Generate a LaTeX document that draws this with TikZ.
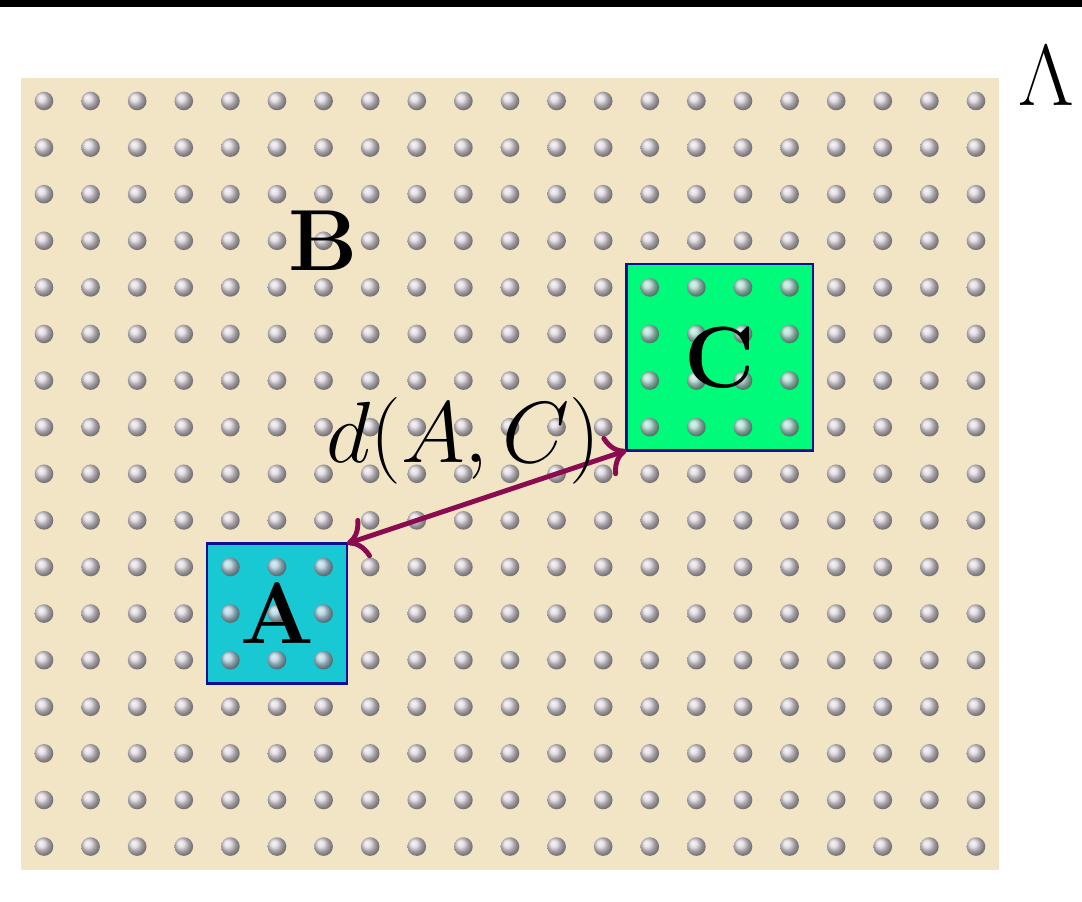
\RequirePackage{fix-cm}
\documentclass[tikz,border=0pt]{standalone}
\usetikzlibrary{arrows.meta}

\definecolor{latticebg}{RGB}{241,229,198}
\definecolor{sitegray}{RGB}{218,213,230}
\definecolor{regionA}{RGB}{24,200,211}
\definecolor{regionC}{RGB}{0,250,122}
\definecolor{regionedge}{RGB}{15,15,150}
\definecolor{distcolor}{RGB}{140,10,80}

\begin{document}
\begin{tikzpicture}[x=1cm,y=-1cm,
        site/.style={shading=ball, ball color=sitegray, opacity=0.85},
        region/.style={draw=regionedge, line width=1.6pt, inner sep=0pt, outer sep=0pt},
        biglabel/.style={font=\fontsize{53}{60}\selectfont, inner sep=0pt},
        distarrow/.style={{To[scale=1.5]}-{To[scale=1.5]}, line width=3pt, draw=distcolor}]
                \useasboundingbox (-0.944,-2.167) rectangle (22.275,17.189);
                \fill[black] (-0.944,-2.167) rectangle (22.275,-2.017);
                \fill[latticebg] (-0.5,-0.5) rectangle (20.5,16.5);

                \node [region, fill=regionA, minimum size=3cm] (boxA) at (5,11) {};
                \node [region, fill=regionC, minimum size=4cm] (boxC) at (14.5,5.5) {};

                \foreach \i in {0,...,20}
                    \foreach \j in {0,...,16}
                        \shade[site] (\i,\j) circle (0.2);

                \node [biglabel] (labA) at (boxA) {\textbf{A}};
                \node [biglabel] (labC) at (boxC) {\textbf{C}};
                \node [biglabel] (labB) at (6,3) {\textbf{B}};
                \node [biglabel] (lambda) at (21.5,-0.53) {$\Lambda$};

                \draw[distarrow] (boxA.north east) -- (boxC.south west);
                \node [biglabel] (dist) at (9.0,7.3) {$d(A,C)$};
            \end{tikzpicture}
\end{document}
